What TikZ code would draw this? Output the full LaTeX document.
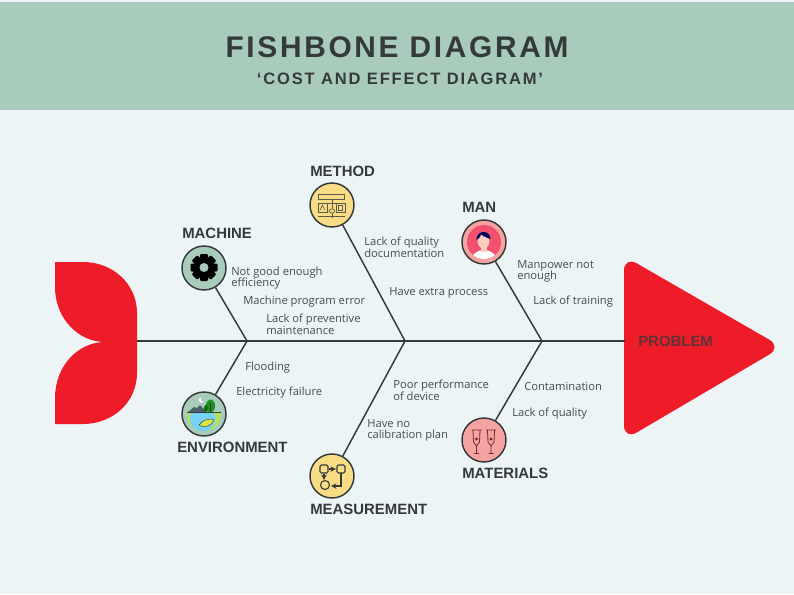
\documentclass[tikz,border=0pt]{standalone}
\usepackage{fontspec}
\setmainfont{Open Sans}
\newfontfamily\headfont[LetterSpace=9]{Liberation Sans}
\newfontfamily\subfont[LetterSpace=11]{Liberation Sans}
\newfontfamily\tagfont{Liberation Sans}
\definecolor{pagebg}{HTML}{EDF4F6}
\definecolor{headbg}{HTML}{A9CBBB}
\definecolor{ink}{HTML}{343A3A}
\definecolor{labelink}{HTML}{474D4F}
\definecolor{fishred}{HTML}{ED1C28}
\definecolor{sand}{HTML}{F8DD85}
\definecolor{rose}{HTML}{F5A3A0}
\definecolor{wine}{HTML}{6E2A30}
\tikzset{
  bone/.style={draw=ink,line width=1.1pt},
  hub/.style={circle,draw=ink,line width=1.1pt,minimum size=33pt,inner sep=0pt},
  cause/.style={anchor=west,inner sep=0pt,align=left,text=labelink,font=\fontsize{8.4}{8.7}\selectfont},
  tag/.style={anchor=west,inner sep=0pt,text=ink,font=\tagfont\bfseries\fontsize{11.2}{12}\selectfont},
  icon/.style={draw=#1,line width=0.5pt,fill=none},
}
\begin{document}
\begin{tikzpicture}[x=0.75pt,y=-0.75pt]
\useasboundingbox (0,0) rectangle (794,594);
\fill[pagebg] (0,0) rectangle (794,594);
\fill[headbg] (0,2) rectangle (794,110);

\node[inner sep=0pt,text=ink] (heading) at (397,47) {\headfont\bfseries\fontsize{22.4}{24}\selectfont FISHBONE DIAGRAM};
\node[inner sep=0pt,text=ink] (subheading) at (400,79) {\subfont\bfseries\fontsize{12.4}{14}\selectfont ‘COST AND EFFECT DIAGRAM’};

% tail and head
\fill[fishred] (55,262) -- (83,262) .. controls (113,262) and (137,284) .. (137,313)
  -- (137,373) .. controls (137,402) and (113,424) .. (83,424) -- (55,424) -- (55,398)
  .. controls (55,366) and (78,342) .. (105,342) .. controls (78,342) and (55,318) .. (55,287) -- cycle;
\fill[fishred,rounded corners=11pt] (624,256) -- (782,347) -- (624,440) -- cycle;

\coordinate (tail) at (137,341);
\coordinate (head) at (625,341);
\coordinate (jointa) at (247,341);
\coordinate (jointb) at (405,341);
\coordinate (jointc) at (542,341);
\draw[bone] (tail) -- (head);

\node[hub,fill=headbg] (machine) at (204,268) {};
\node[hub,fill=sand] (method) at (332,205) {};
\node[hub,fill=rose] (man) at (484,242) {};
\node[hub,fill=headbg] (environment) at (204,414) {};
\node[hub,fill=sand] (measurement) at (332,476) {};
\node[hub,fill=rose] (materials) at (484,440) {};

\draw[bone] (machine) -- (jointa);
\draw[bone] (environment) -- (jointa);
\draw[bone] (method) -- (jointb);
\draw[bone] (measurement) -- (jointb);
\draw[bone] (man) -- (jointc);
\draw[bone] (materials) -- (jointc);

\node[tag] (machinetag) at (182,233.5) {MACHINE};
\node[tag] (methodtag) at (310,171.5) {METHOD};
\node[tag] (mantag) at (462,207.5) {MAN};
\node[tag] (environmenttag) at (177,447) {ENVIRONMENT};
\node[tag] (measurementtag) at (310,509) {MEASUREMENT};
\node[tag] (materialstag) at (462,473) {MATERIALS};
\node[tag,text=ink!75!fishred] (problem) at (638,341) {PROBLEM};

\node[cause] (ca) at (231,278) {Not good enough\\efficiency};
\node[cause] (cb) at (243,302) {Machine program error};
\node[cause] (cc) at (266,324.5) {Lack of preventive\\maintenance};
\node[cause] (cd) at (245,368) {Flooding};
\node[cause] (ce) at (236,393) {Electricity failure};
\node[cause] (cf) at (364,247.5) {Lack of quality\\documentation};
\node[cause] (cg) at (389,293) {Have extra process};
\node[cause] (ch) at (393,390.5) {Poor performance\\of device};
\node[cause] (ci) at (367,430.5) {Have no\\calibration plan};
\node[cause] (cj) at (517,271.5) {Manpower not\\enough};
\node[cause] (ck) at (533,302) {Lack of training};
\node[cause] (cl) at (524,386) {Contamination};
\node[cause] (cm) at (512,414) {Lack of quality};

% machine icon
\fill[black] (204,267.5) circle (10.5);
\foreach \a in {0,45,...,315}
  \fill[black,rounded corners=0.8pt,rotate around={\a:(204,267.5)}] (200,254) rectangle (208,261);
\fill[headbg] (204,267.5) circle (4.5);

% method icon
\begin{scope}[icon=ink!80!sand]
\draw (318,194) rectangle (344,199);
\draw (332,199) -- (332,218);
\draw (322,203) -- (341,203);
\draw (318,203) rectangle (327,212);
\draw (336,203) rectangle (345,212);
\draw (320,210) -- (322.5,205) -- (325,210);
\draw (338.5,205) rectangle (342.5,210);
\draw (318,216) -- (345,216);
\draw[fill=sand] (332,211) ellipse (3 and 2);
\end{scope}

% man icon
\fill[fishred!55!rose!90!magenta] (484,242) circle (17);
\begin{scope}
\clip (484,242) circle (17);
\fill[white] (484,263) ellipse (14 and 13);
\end{scope}
\fill[orange!20!rose!50!white] (481,245) rectangle (487,252);
\fill[orange!20!rose!50!white] (483.5,241) ellipse (6 and 7.5);
\fill[blue!35!black] (476.5,240) .. controls (476,230) and (490,229) .. (490.5,239)
  .. controls (487,238) and (483,236) .. (481,234.5) .. controls (480,238) and (478,239) .. (476.5,240) -- cycle;

% environment icon
\begin{scope}
\clip (204,414) circle (17);
\fill[yellow!60!green!70!white] (186,412) rectangle (222,432);
\fill[cyan!55!white] (190,414) .. controls (198,412) and (210,412) .. (214,414) .. controls (219,421) and (210,432) .. (203,432) .. controls (195,432) and (189,424) .. (190,414) -- cycle;
\fill[yellow!80!green!80!white,draw=ink,line width=0.3pt] (199,425) .. controls (203,419) and (211,418) .. (214,420) .. controls (212,426) and (203,429) .. (199,425) -- cycle;
\fill[black!65!cyan] (188,412) -- (194,407) -- (197,408) -- (200,405) -- (207,412) -- cycle;
\draw[ink,line width=0.5pt] (187,412.5) -- (221,412.5);
\end{scope}
\fill[green!50!black!80!headbg] (210.5,406) ellipse (4.5 and 6.5);
\draw[ink,line width=0.4pt] (210.5,403) -- (210.5,412);
\fill[green!45!black] (206,408.5) ellipse (2 and 3.5);
\fill[white] (201.5,400) circle (2.5);
\fill[headbg] (203,399) circle (2.3);

% measurement icon
\begin{scope}[icon=ink,line width=0.8pt]
\draw[rounded corners=1pt] (320,465) rectangle (328,473);
\draw[rounded corners=1pt] (337,465) rectangle (345,473);
\draw (325,485) circle (4.5);
\draw[-stealth] (329,469) -- (336,469);
\draw[-stealth] (324,474) -- (324,480);
\draw[-stealth] (341,473) -- (341,486) -- (331,486);
\end{scope}

% materials icon
\foreach \x in {476.5,491} {
  \draw[draw=wine,line width=0.6pt] (\x-5,430) -- (\x+5,430)
    (\x-3.5,430.5) -- (\x-3,442) -- (\x,446) -- (\x+3,442) -- (\x+3.5,430.5)
    (\x,446) -- (\x,453) (\x-2.5,453.5) -- (\x+2.5,453.5);
  \fill[wine] (\x,439) circle (1.6);
}
\end{tikzpicture}
\end{document}
